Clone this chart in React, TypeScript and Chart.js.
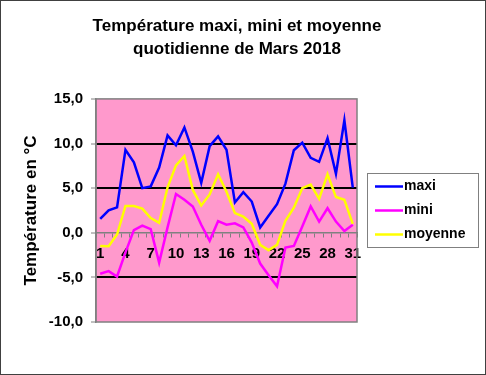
import React, { useEffect, useRef } from "react";
import { Chart, registerables } from "chart.js";

Chart.register(...registerables);

const days: string[] = Array.from({ length: 31 }, (_, i) => String(i + 1));

const maxi: number[] = [
  1.55, 2.5, 2.85, 9.3, 7.9, 5.0, 5.2, 7.3, 10.9, 9.8, 11.8, 9.1, 5.6, 9.7, 10.8, 9.3,
  3.4, 4.55, 3.5, 0.6, 1.9, 3.2, 5.5, 9.25, 10.1, 8.4, 7.95, 10.6, 6.6, 12.6, 5.05,
];
const mini: number[] = [
  -4.6, -4.3, -4.9, -2.2, 0.3, 0.8, 0.4, -3.35, 0.6, 4.35, 3.7, 2.95, 0.9, -0.9, 1.3, 0.9,
  1.05, 0.6, -1.1, -3.45, -4.75, -6.0, -1.65, -1.47, 0.7, 2.95, 1.25, 2.75, 1.25, 0.2, 0.9,
];
const moyenne: number[] = [
  -1.47, -1.5, -0.2, 3.0, 3.0, 2.7, 1.65, 1.1, 5.1, 7.55, 8.6, 4.8, 3.05, 4.3, 6.55, 4.6,
  2.2, 1.8, 1.0, -1.35, -1.95, -1.35, 1.35, 2.8, 5.0, 5.4, 3.8, 6.55, 4.0, 3.7, 1.0,
];

const seriesNames: string[] = ["maxi", "mini", "moyenne"];
const seriesColors: string[] = ["#0000FF", "#FF00FF", "#FFFF00"];
const titleLines: string[] = ["Température maxi, mini et moyenne", "quotidienne de Mars 2018"];
const yTitle = "Température en °C";
const yMin = -10;
const yMax = 15;
const yStep = 5;
const majorGridValues: number[] = [10, 5, -5];

const FONT = "'Liberation Sans', Arial, sans-serif";

const plotBgPlugin = {
  id: "plotBg",
  beforeDraw(chart: any) {
    const { ctx, chartArea } = chart;
    ctx.save();
    ctx.fillStyle = "#FFFFFF";
    ctx.fillRect(0, 0, chart.width, chart.height);
    ctx.fillStyle = "#FF99CC";
    ctx.fillRect(chartArea.left, chartArea.top, chartArea.right - chartArea.left, chartArea.bottom - chartArea.top);
    ctx.restore();
  },
  beforeDatasetsDraw(chart: any) {
    const { ctx, chartArea } = chart;
    ctx.save();
    ctx.strokeStyle = "#808080";
    ctx.lineWidth = 1.5;
    ctx.strokeRect(chartArea.left, chartArea.top, chartArea.right - chartArea.left, chartArea.bottom - chartArea.top);
    ctx.restore();
  },
  afterDraw(chart: any) {
    const { ctx, chartArea } = chart;
    ctx.save();
    // legend box
    const boxLeft = chartArea.right + 10;
    const boxW = 111;
    const itemGap = 24;
    const n = chart.data.datasets.length;
    const boxH = n * itemGap + 2;
    const cy = (chartArea.top + chartArea.bottom) / 2;
    const boxTop = Math.round(cy - boxH / 2) + 0.5;
    ctx.fillStyle = "#FFFFFF";
    ctx.fillRect(boxLeft, boxTop, boxW, boxH);
    ctx.strokeStyle = "#808080";
    ctx.lineWidth = 1;
    ctx.strokeRect(boxLeft + 0.5, boxTop, boxW, boxH);
    chart.data.datasets.forEach((ds: any, i: number) => {
      const y = boxTop + 1 + itemGap * (i + 0.5);
      ctx.strokeStyle = ds.borderColor;
      ctx.lineWidth = 2.5;
      ctx.beginPath();
      ctx.moveTo(boxLeft + 8, y);
      ctx.lineTo(boxLeft + 36, y);
      ctx.stroke();
      ctx.fillStyle = "#000000";
      ctx.font = `bold 14px ${FONT}`;
      ctx.textBaseline = "middle";
      ctx.textAlign = "left";
      ctx.fillText(ds.label, boxLeft + 37, y);
    });
    // outer frame
    ctx.strokeStyle = "#404040";
    ctx.lineWidth = 1;
    ctx.strokeRect(0.5, 0.5, chart.width - 1, chart.height - 1);
    ctx.restore();
  },
};

export default function App() {
  const canvasRef = useRef<HTMLCanvasElement | null>(null);

  useEffect(() => {
    document.body.style.margin = "0";
    const canvas = canvasRef.current;
    if (!canvas) return;
    const data = [maxi, mini, moyenne];
    const chart = new Chart(canvas, {
      type: "line",
      data: {
        labels: days,
        datasets: data.map((vals, i) => ({
          label: seriesNames[i],
          data: vals,
          borderColor: seriesColors[i],
          backgroundColor: seriesColors[i],
          borderWidth: 2.5,
          pointRadius: 0,
          tension: 0,
          fill: false,
          order: 3 - i,
        })),
      },
      options: {
        animation: false,
        responsive: false,
        devicePixelRatio: 1,
        layout: { padding: { left: 0, right: 12, top: 0, bottom: 53 } },
        plugins: {
          legend: { display: false },
          tooltip: { enabled: false },
          title: {
            display: true,
            text: titleLines,
            color: "#000000",
            font: { family: FONT, size: 17, weight: "bold", lineHeight: 1.35 },
            padding: { top: 15, bottom: 38 },
          },
        },
        scales: {
          x: {
            type: "category",
            offset: true,
            position: { y: 0 } as any,
            grid: {
              offset: true,
              drawOnChartArea: false,
              drawTicks: true,
              tickLength: 4,
              color: "#808080",
              lineWidth: 1,
            },
            border: { display: true, color: "#808080", width: 1.5 },
            ticks: {
              autoSkip: false,
              maxRotation: 0,
              minRotation: 0,
              padding: 8,
              color: "#000000",
              font: { family: FONT, size: 15, weight: "bold" },
              callback: (_v: any, idx: number) => (idx % 3 === 0 ? days[idx] : ""),
            },
          },
          y: {
            type: "linear",
            position: "left",
            min: yMin,
            max: yMax,
            afterFit: (s: any) => {
              s.width = 96;
            },
            ticks: {
              stepSize: yStep,
              padding: 8,
              color: "#000000",
              font: { family: FONT, size: 15, weight: "bold" },
              callback: (v: any) => Number(v).toFixed(1).replace(".", ","),
            },
            grid: {
              drawTicks: true,
              tickLength: 5,
              tickColor: "#808080",
              tickWidth: 1,
              lineWidth: 2,
              color: (ctx: any) =>
                ctx.tick && majorGridValues.includes(ctx.tick.value) ? "#000000" : "rgba(0,0,0,0)",
            },
            border: { display: true, color: "#808080", width: 1.5 },
            title: {
              display: true,
              text: yTitle,
              color: "#000000",
              font: { family: FONT, size: 17, weight: "bold" },
              padding: { top: 21, bottom: 0 },
            },
          },
          pad: {
            type: "linear",
            position: "right",
            display: true,
            afterFit: (s: any) => {
              s.width = 117;
            },
            grid: { display: false, drawTicks: false },
            border: { display: false },
            ticks: { display: false },
          },
        },
      },
      plugins: [plotBgPlugin],
    });
    return () => chart.destroy();
  }, []);

  return (
    <div style={{ width: 486, height: 375 }}>
      <canvas ref={canvasRef} width={486} height={375} style={{ width: 486, height: 375, display: "block" }} />
    </div>
  );
}
